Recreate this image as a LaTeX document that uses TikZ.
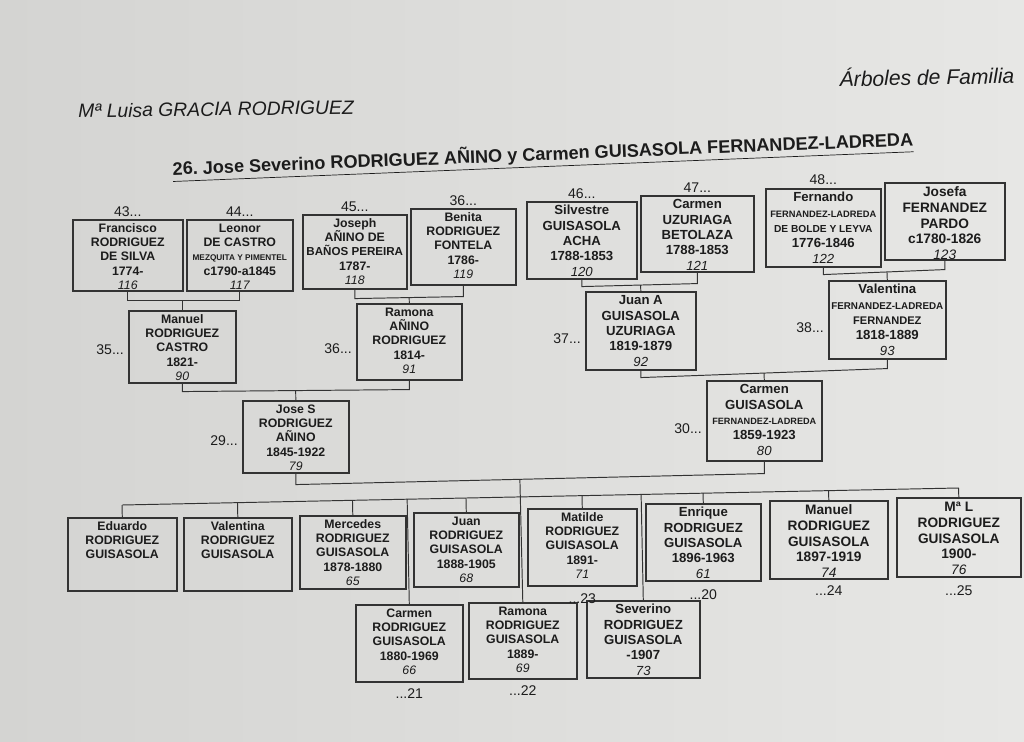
\documentclass[tikz,border=0pt]{standalone}
\usepackage{fontspec}
\setmainfont{Liberation Sans}
\usepackage{graphicx}
\usetikzlibrary{calc}
\definecolor{paperL}{HTML}{D4D4D2}
\definecolor{paperR}{HTML}{E7E7E5}
\definecolor{ink}{HTML}{1C1C1C}
\definecolor{linec}{HTML}{333333}
\newdimen\pxu \pxu=0.02cm
\newcommand\bx[3]{\parbox[c][#2\pxu][t]{#1\pxu}{\centering\rule{0pt}{1em}#3\par}}
\newcommand\nm[1]{{\mdseries\itshape #1}}
\newcommand\smt[2]{{\fontsize{#1}{#1}\selectfont #2}}
\frenchspacing
\begin{document}
\begin{tikzpicture}[x=0.02cm,y=-0.02cm,
  pbox/.style={draw=linec, line width=0.9pt, inner sep=0pt, anchor=north west, text=ink},
  fA/.style={font=\bfseries\fontsize{7}{8.2}\selectfont},
  fB/.style={font=\bfseries\fontsize{7.5}{8.7}\selectfont},
  fC/.style={font=\bfseries\fontsize{7.8}{9}\selectfont},
  lbl/.style={inner sep=0.5pt, text=ink, font=\fontsize{8}{9}\selectfont},
  conn/.style={draw=linec, line width=0.55pt}]
\useasboundingbox (0,0) rectangle (1024,742);
\shade[left color=paperL, right color=paperR] (0,0) rectangle (1024,742);

% headers
\node[text=ink, font=\itshape\fontsize{12}{14}\selectfont, rotate=1.2] (hdr) at (927,76) {Árboles de Familia};
\node[text=ink, font=\itshape\fontsize{11}{13}\selectfont, rotate=0.8] (auth) at (216,109) {Mª Luisa GRACIA RODRIGUEZ};
\node[text=ink, font=\bfseries\fontsize{10.3}{12}\selectfont, rotate=2.3] (title) at (543,156) {\underline{26. Jose Severino RODRIGUEZ AÑINO y Carmen GUISASOLA FERNANDEZ-LADREDA}};

% great-grandparents
\node[pbox,fA] (fra) at (72,219) {\bx{110}{71}{Francisco\\RODRIGUEZ\\DE SILVA\\1774-\\\nm{116}}};
\node[pbox,fA] (leo) at (186,219) {\bx{106}{71}{Leonor\\DE CASTRO\\\smt{4.7}{MEZQUITA Y PIMENTEL}\\c1790-a1845\\\nm{117}}};
\node[pbox,fA] (jos) at (302,214) {\bx{104}{74}{Joseph\\AÑINO DE\\\smt{6.6}{BAÑOS PEREIRA}\\1787-\\\nm{118}}};
\node[pbox,fA] (ben) at (410,208) {\bx{105}{76}{Benita\\RODRIGUEZ\\FONTELA\\1786-\\\nm{119}}};
\node[pbox,fB] (sil) at (526,201) {\bx{110}{77}{Silvestre\\GUISASOLA\\ACHA\\1788-1853\\\nm{120}}};
\node[pbox,fB] (cuz) at (640,195) {\bx{113}{76}{Carmen\\UZURIAGA\\BETOLAZA\\1788-1853\\\nm{121}}};
\node[pbox,fB] (fer) at (765,188) {\bx{115}{78}{Fernando\\\smt{5.3}{FERNANDEZ-LADREDA}\\\smt{5.8}{DE BOLDE Y LEYVA}\\1776-1846\\\nm{122}}};
\node[pbox,fC] (jfa) at (884,182) {\bx{120}{77}{Josefa\\FERNANDEZ\\PARDO\\c1780-1826\\\nm{123}}};

\node[lbl,anchor=south] (l43) at ($(fra.north)+(0,-1)$) {43...};
\node[lbl,anchor=south] (l44) at ($(leo.north)+(0,-1)$) {44...};
\node[lbl,anchor=south] (l45) at ($(jos.north)+(0,-1)$) {45...};
\node[lbl,anchor=south] (l36b) at ($(ben.north)+(0,-1)$) {36...};
\node[lbl,anchor=south] (l46) at ($(sil.north)+(0,-1)$) {46...};
\node[lbl,anchor=south] (l47) at ($(cuz.north)+(0,-1)$) {47...};
\node[lbl,anchor=south] (l48) at ($(fer.north)+(0,-2)$) {48...};

% grandparents
\node[pbox,fA] (man) at (128,310) {\bx{107}{72}{Manuel\\RODRIGUEZ\\CASTRO\\1821-\\\nm{90}}};
\node[pbox,fA] (ram) at (356,303) {\bx{105}{76}{Ramona\\AÑINO\\RODRIGUEZ\\1814-\\\nm{91}}};
\node[pbox,fB] (jua) at (585,291) {\bx{110}{78}{Juan A\\GUISASOLA\\UZURIAGA\\1819-1879\\\nm{92}}};
\node[pbox,fB] (val) at (828,280) {\bx{117}{78}{Valentina\\\smt{5.6}{FERNANDEZ-LADREDA}\\\smt{6.3}{FERNANDEZ}\\1818-1889\\\nm{93}}};

\node[lbl,anchor=east] (l35) at ($(man.west)+(-3,3)$) {35...};
\node[lbl,anchor=east] (l36) at ($(ram.west)+(-3,7)$) {36...};
\node[lbl,anchor=east] (l37) at ($(jua.west)+(-3,8)$) {37...};
\node[lbl,anchor=east] (l38) at ($(val.west)+(-3,8)$) {38...};

% parents
\node[pbox,fA] (jse) at (242,400) {\bx{106}{72}{Jose S\\RODRIGUEZ\\AÑINO\\1845-1922\\\nm{79}}};
\node[pbox,fB] (cgu) at (706,380) {\bx{115}{80}{Carmen\\GUISASOLA\\\smt{5.2}{FERNANDEZ-LADREDA}\\1859-1923\\\nm{80}}};
\node[lbl,anchor=east] (l29) at ($(jse.west)+(-3,4)$) {29...};
\node[lbl,anchor=east] (l30) at ($(cgu.west)+(-3,8)$) {30...};

% children, first row
\node[pbox,fA] (edu) at (67,517) {\bx{109}{73}{Eduardo\\RODRIGUEZ\\GUISASOLA}};
\node[pbox,fA] (vln) at (183,517) {\bx{108}{73}{Valentina\\RODRIGUEZ\\GUISASOLA}};
\node[pbox,fA] (mer) at (299,515) {\bx{106}{73}{Mercedes\\RODRIGUEZ\\GUISASOLA\\1878-1880\\\nm{65}}};
\node[pbox,fA] (jun) at (413,512) {\bx{105}{74}{Juan\\RODRIGUEZ\\GUISASOLA\\1888-1905\\\nm{68}}};
\node[pbox,fA] (mat) at (527,508) {\bx{109}{77}{Matilde\\RODRIGUEZ\\GUISASOLA\\1891-\\\nm{71}}};
\node[pbox,fB] (enr) at (645,503) {\bx{115}{77}{Enrique\\RODRIGUEZ\\GUISASOLA\\1896-1963\\\nm{61}}};
\node[pbox,fC] (mnl) at (769,500) {\bx{118}{78}{Manuel\\RODRIGUEZ\\GUISASOLA\\1897-1919\\\nm{74}}};
\node[pbox,fC] (mal) at (896,497) {\bx{124}{79}{Mª L\\RODRIGUEZ\\GUISASOLA\\1900-\\\nm{76}}};

% children, second row
\node[pbox,fA] (car) at (355,604) {\bx{107}{77}{Carmen\\RODRIGUEZ\\GUISASOLA\\1880-1969\\\nm{66}}};
\node[pbox,fA] (rmn) at (468,602) {\bx{108}{76}{Ramona\\RODRIGUEZ\\GUISASOLA\\1889-\\\nm{69}}};
\node[pbox,fB] (sev) at (586,600) {\bx{113}{77}{Severino\\RODRIGUEZ\\GUISASOLA\\-1907\\\nm{73}}};

\node[lbl,anchor=north] (l23) at ($(mat.south)+(0,6)$) {...23};
\node[lbl,anchor=north] (l20) at ($(enr.south)+(0,7)$) {...20};
\node[lbl,anchor=north] (l24) at ($(mnl.south)+(0,5)$) {...24};
\node[lbl,anchor=north] (l25) at ($(mal.south)+(0,7)$) {...25};
\node[lbl,anchor=north] (l21) at ($(car.south)+(0,5)$) {...21};
\node[lbl,anchor=north] (l22) at ($(rmn.south)+(0,5)$) {...22};

% couple connectors
\draw[conn] (fra.south) -- ++(0,9) coordinate (c1a) -- ($(leo.south)+(0,9)$) coordinate (c1b) -- (leo.south);
\draw[conn] (man.north) -- ($(c1a)!(man.north)!(c1b)$);
\draw[conn] (jos.south) -- ++(0,9) coordinate (c2a) -- ($(ben.south)+(0,11)$) coordinate (c2b) -- (ben.south);
\draw[conn] (ram.north) -- ($(c2a)!(ram.north)!(c2b)$);
\draw[conn] (sil.south) -- ++(0,7) coordinate (c3a) -- ($(cuz.south)+(0,11)$) coordinate (c3b) -- (cuz.south);
\draw[conn] (jua.north) -- ($(c3a)!(jua.north)!(c3b)$);
\draw[conn] (fer.south) -- ++(0,7) coordinate (c4a) -- ($(jfa.south)+(0,9)$) coordinate (c4b) -- (jfa.south);
\draw[conn] (val.north) -- ($(c4a)!(val.north)!(c4b)$);
\draw[conn] (man.south) -- ++(0,8) coordinate (c5a) -- ($(ram.south)+(0,9)$) coordinate (c5b) -- (ram.south);
\draw[conn] (jse.north) -- ($(c5a)!(jse.north)!(c5b)$);
\draw[conn] (jua.south) -- ++(0,7) coordinate (c6a) -- ($(val.south)+(0,9)$) coordinate (c6b) -- (val.south);
\draw[conn] (cgu.north) -- ($(c6a)!(cgu.north)!(c6b)$);
\draw[conn] (jse.south) -- ++(0,11) coordinate (c7a) -- ($(cgu.south)+(0,12)$) coordinate (c7b) -- (cgu.south);
\coordinate (tk) at ($(c7a)!(rmn.north)!(c7b)$);
\draw[conn] (tk) -- (rmn.north);

% children bus
\coordinate (bl) at ($(edu.north)+(0,-12)$);
\coordinate (br) at ($(mal.north)+(0,-9)$);
\draw[conn] (bl) -- (br);
\foreach \n in {edu,vln,mer,jun,mat,enr,mnl,mal,car,sev}
  \draw[conn] (\n.north) -- ($(bl)!(\n.north)!(br)$);
\end{tikzpicture}
\end{document}
